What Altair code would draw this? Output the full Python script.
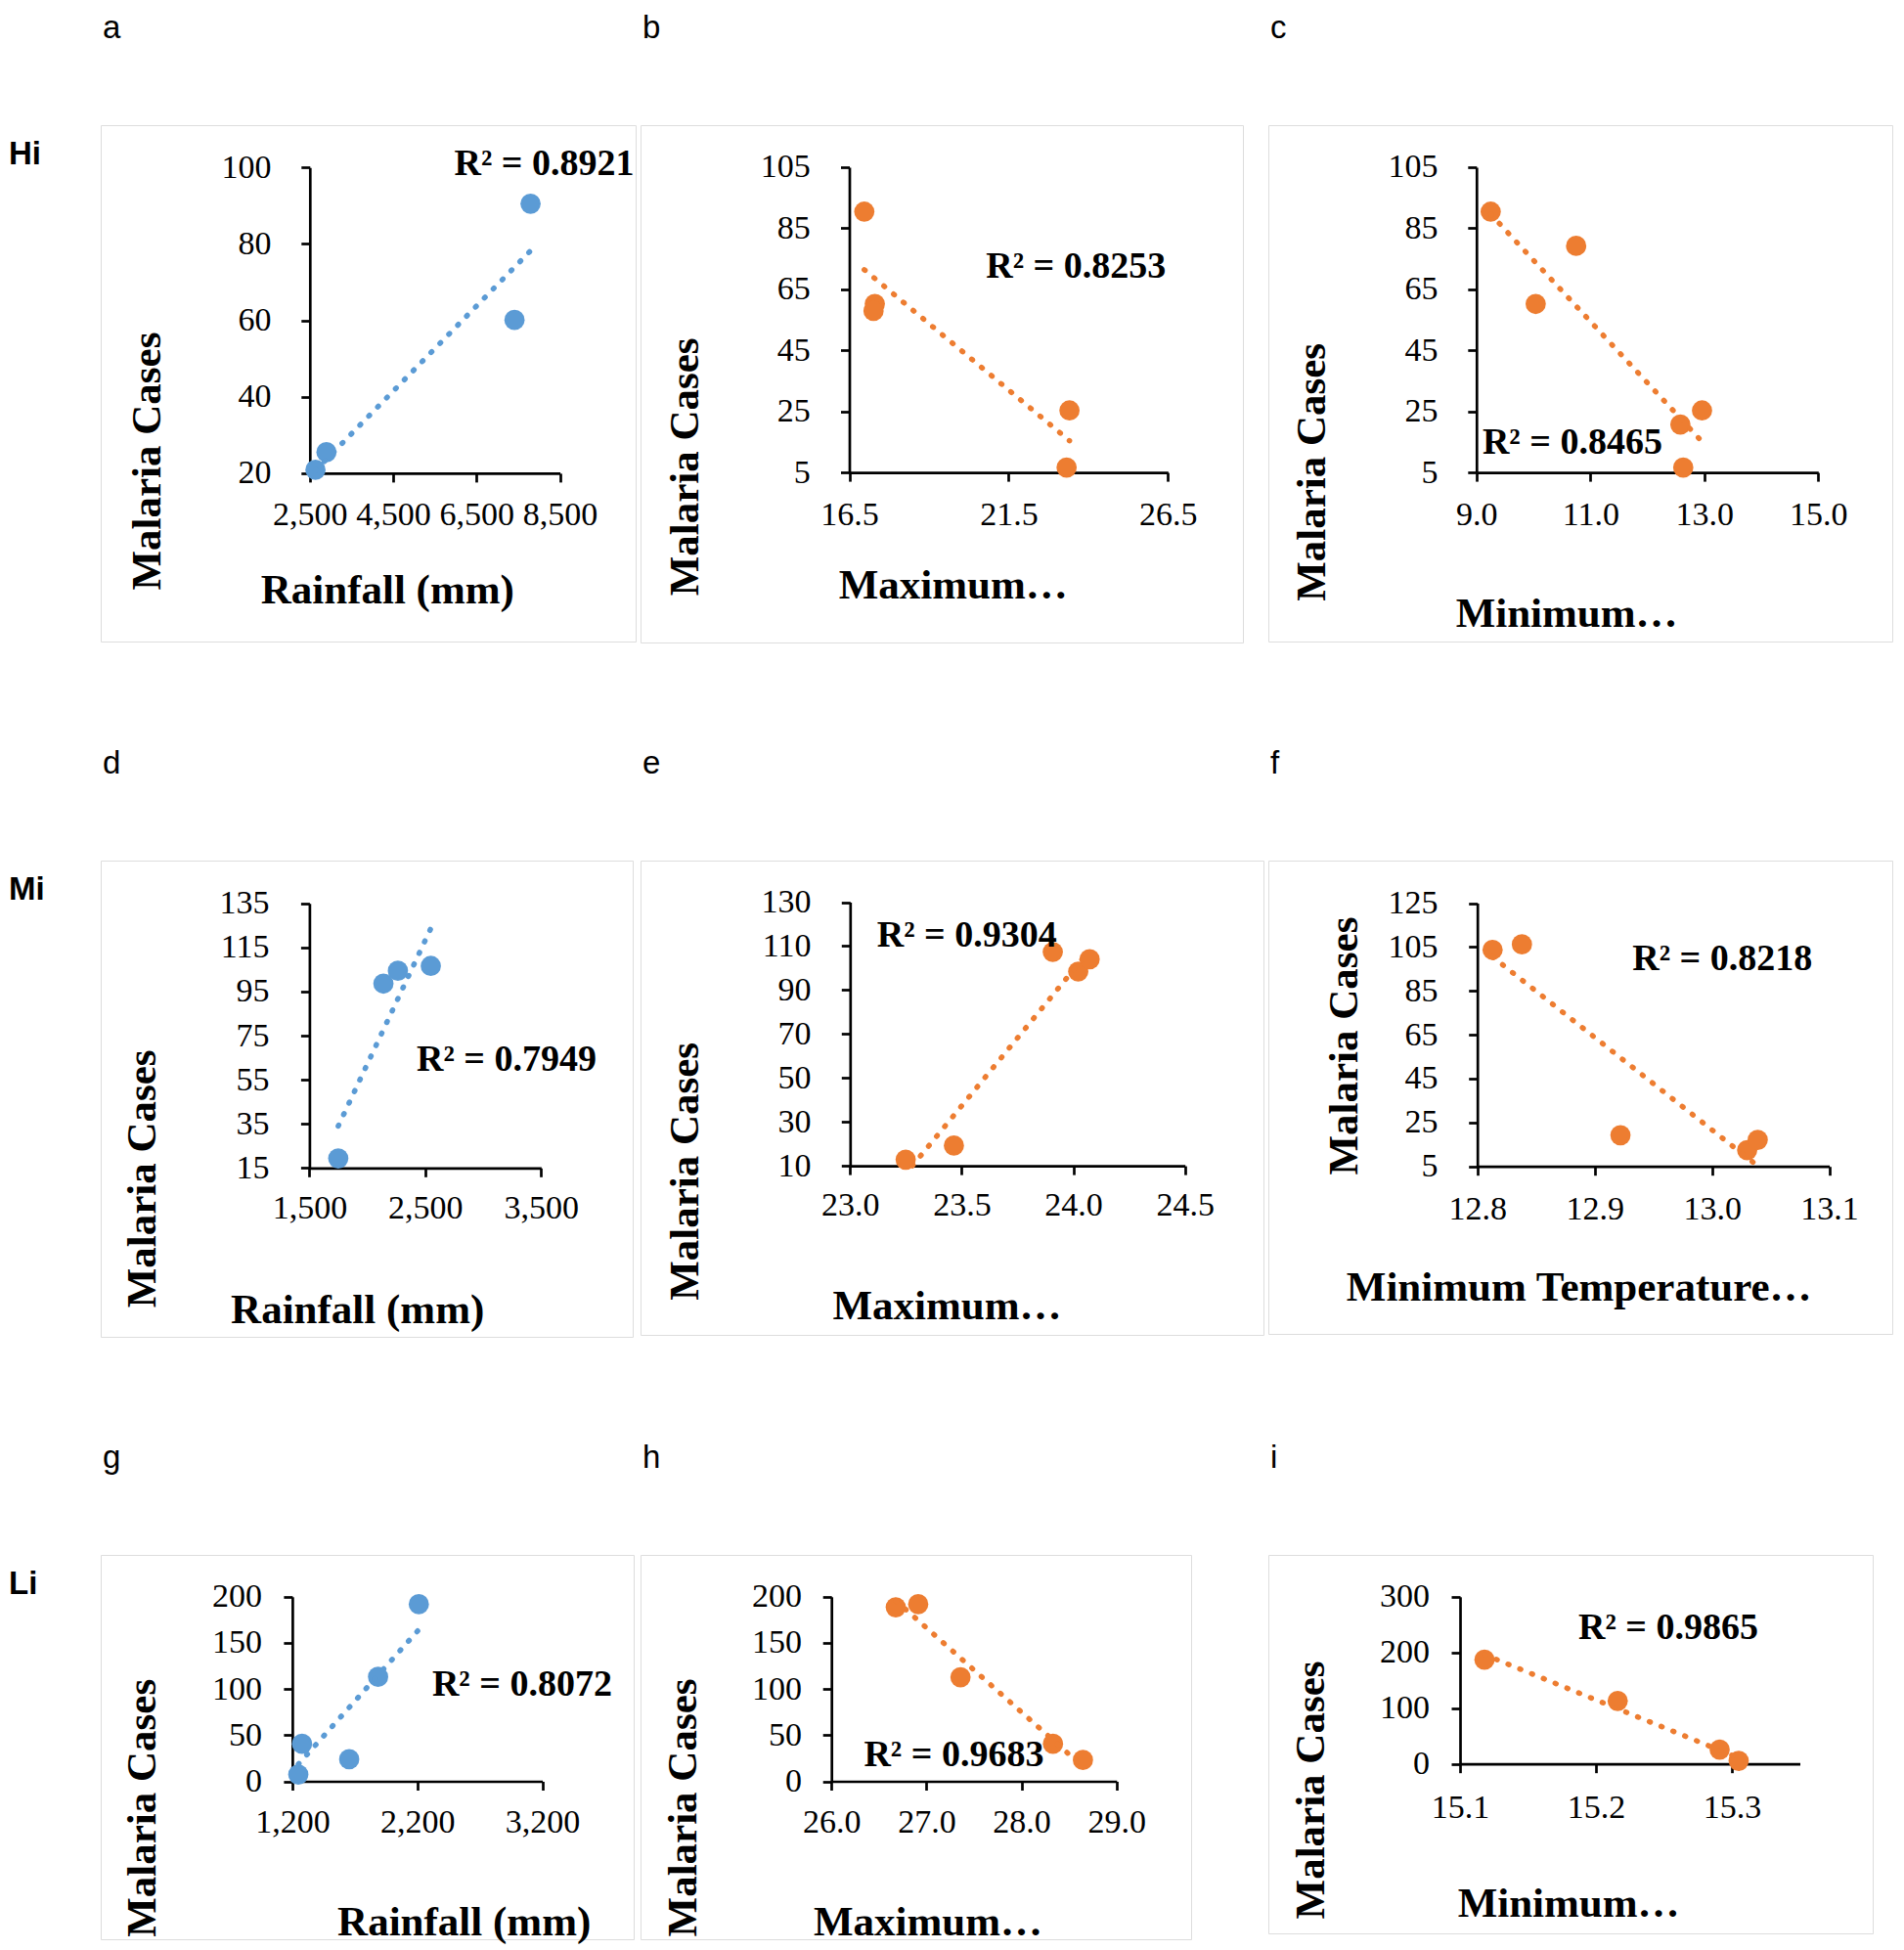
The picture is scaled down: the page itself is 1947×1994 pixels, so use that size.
import altair as alt
import pandas as pd

# ---------------- data ----------------
# Hi zone
hi_rain = [2636, 2899, 7410, 7795]
hi_rain_cases = [20.9, 25.5, 60.1, 90.5]
hi_tmax = [16.97, 17.30, 17.26, 23.41, 23.32]
hi_tmax_cases = [90.4, 60.2, 57.9, 25.3, 6.6]
hi_tmin = [9.25, 10.75, 10.04, 12.58, 12.96, 12.63]
hi_tmin_cases = [90.4, 79.2, 60.2, 20.7, 25.3, 6.6]
# Mi zone
mi_rain = [1749, 2139, 2264, 2548]
mi_rain_cases = [19.3, 98.6, 104.4, 106.6]
mi_tmax = [23.249, 23.465, 23.908, 24.022, 24.073]
mi_tmax_cases = [12.8, 19.2, 107.3, 98.4, 104.0]
mi_tmin = [12.813, 12.838, 12.922, 13.030, 13.039]
mi_tmin_cases = [103.7, 106.2, 19.2, 12.4, 17.1]
# Li zone
li_rain = [1278, 1248, 1655, 1886, 2212]
li_rain_cases = [40.6, 7.3, 23.9, 113.2, 191.9]
li_tmax = [26.677, 26.913, 27.358, 28.331, 28.646]
li_tmax_cases = [188.6, 191.9, 112.8, 40.6, 23.1]
li_tmin = [15.118, 15.216, 15.291, 15.305]
li_tmin_cases = [187.0, 113.0, 25.6, 5.4]

# linear trendlines (end points)
trend_x = [[2636, 7795], [16.97, 23.41], [9.25, 12.96],
           [1749, 2548], [23.279, 24.073], [12.813, 13.039],
           [1248, 2212], [26.677, 28.646], [15.118, 15.305]]
trend_y = [[20.7, 78.2], [71.4, 15.4], [89.6, 15.1],
           [34.0, 123.6], [10.0, 108.1], [100.5, 5.2],
           [18.4, 164.4], [195.8, 15.9], [196.2, 10.7]]

r2_labels = ["R\u00b2 = 0.8921", "R\u00b2 = 0.8253", "R\u00b2 = 0.8465",
             "R\u00b2 = 0.7949", "R\u00b2 = 0.9304", "R\u00b2 = 0.8218",
             "R\u00b2 = 0.8072", "R\u00b2 = 0.9683", "R\u00b2 = 0.9865"]
x_titles = ["Rainfall (mm)", "Maximum\u2026", "Minimum\u2026",
            "Rainfall (mm)", "Maximum\u2026", "Minimum Temperature\u2026",
            "Rainfall (mm)", "Maximum\u2026", "Minimum\u2026"]
y_title = "Malaria Cases"
panel_letters = ["a", "b", "c", "d", "e", "f", "g", "h", "i"]
row_labels = ["Hi", "Mi", "Li"]

x_domains = [[2500, 8500], [16.5, 26.5], [9.0, 15.0],
             [1500, 3500], [23.0, 24.5], [12.8, 13.1],
             [1200, 3200], [26.0, 29.0], [15.1, 15.35]]
x_ticks = [[2500, 4500, 6500, 8500], [16.5, 21.5, 26.5], [9, 11, 13, 15],
           [1500, 2500, 3500], [23.0, 23.5, 24.0, 24.5], [12.8, 12.9, 13.0, 13.1],
           [1200, 2200, 3200], [26, 27, 28, 29], [15.1, 15.2, 15.3]]
x_formats = [",.0f", ".1f", ".1f", ",.0f", ".1f", ".1f", ",.0f", ".1f", ".1f"]
y_domains = [[20, 100], [5, 105], [5, 105],
             [15, 135], [10, 130], [5, 125],
             [0, 200], [0, 200], [0, 300]]
y_ticks = [[20, 40, 60, 80, 100], [5, 25, 45, 65, 85, 105], [5, 25, 45, 65, 85, 105],
           [15, 35, 55, 75, 95, 115, 135], [10, 30, 50, 70, 90, 110, 130],
           [5, 25, 45, 65, 85, 105, 125],
           [0, 50, 100, 150, 200], [0, 50, 100, 150, 200], [0, 100, 200, 300]]

xs_all = [hi_rain, hi_tmax, hi_tmin, mi_rain, mi_tmax, mi_tmin, li_rain, li_tmax, li_tmin]
ys_all = [hi_rain_cases, hi_tmax_cases, hi_tmin_cases,
          mi_rain_cases, mi_tmax_cases, mi_tmin_cases,
          li_rain_cases, li_tmax_cases, li_tmin_cases]

BLUE = "#5B9BD5"
ORANGE = "#ED7D31"
colors = [BLUE, ORANGE, ORANGE, BLUE, ORANGE, ORANGE, BLUE, ORANGE, ORANGE]

# ---------------- layout (pixels, relative to each panel frame) ----------------
SERIF = "Liberation Serif"
SANS = "Liberation Sans"
layout = [
    dict(W=547, H=528, xr=(213.8, 469.6), yr=(355.9, 43.2), ygap=39.7, xgap=42.8,
         yt=(47.7, 343.1), xt=(292.8, 475.6), r2=(453.5, 39.7)),
    dict(W=616, H=529, xr=(213.5, 539.3), yr=(355.1, 42.9), ygap=40.2, xgap=42.9,
         yt=(45.6, 348.9), xt=(319.2, 470.7), r2=(445.2, 145.4)),
    dict(W=638, H=528, xr=(212.8, 562.3), yr=(355.1, 42.9), ygap=39.8, xgap=42.9,
         yt=(44.0, 354.4), xt=(304.6, 499.7), r2=(310.9, 325.3)),
    dict(W=544, H=487, xr=(213.4, 450.3), yr=(314.3, 43.7), ygap=41.3, xgap=41.6,
         yt=(42.9, 324.9), xt=(262.2, 459.2), r2=(415.0, 204.1)),
    dict(W=637, H=485, xr=(214.3, 556.7), yr=(312.1, 42.5), ygap=40.2, xgap=40.0,
         yt=(45.6, 317.4), xt=(313.0, 455.0), r2=(333.7, 77.0)),
    dict(W=638, H=484, xr=(213.7, 573.6), yr=(312.7, 43.5), ygap=40.7, xgap=43.8,
         yt=(77.5, 189.1), xt=(317.2, 436.1), r2=(464.2, 101.2)),
    dict(W=545, H=393, xr=(195.9, 451.6), yr=(231.5, 42.8), ygap=31.4, xgap=42.1,
         yt=(42.9, 258.3), xt=(371.2, 375.0), r2=(430.9, 133.2)),
    dict(W=563, H=393, xr=(195.2, 486.8), yr=(231.5, 42.8), ygap=30.7, xgap=42.0,
         yt=(43.0, 258.0), xt=(293.5, 375.0), r2=(320.4, 204.7)),
    dict(W=618, H=387, xr=(196.0, 543.5), yr=(213.7, 42.8), ygap=31.4, xgap=44.8,
         yt=(43.3, 240.0), xt=(306.6, 356.0), r2=(409.0, 74.8)),
]
TICK = 9
LINEW = 2.7
LETTER_Y = -89


def make_panel(i):
    L = layout[i]
    W, H = L["W"], L["H"]
    xscale = alt.Scale(domain=x_domains[i], range=[L["xr"][0], L["xr"][1]], nice=False, zero=False)
    yscale = alt.Scale(domain=y_domains[i], range=[L["yr"][0], L["yr"][1]], nice=False, zero=False)
    common = dict(grid=False, domainColor="black", domainWidth=LINEW, tickColor="black",
                  tickWidth=LINEW, tickSize=TICK, labelFont=SERIF, labelFontSize=34,
                  labelColor="black", labelOverlap=False, labelFlush=False,
                  titleFont=SERIF, titleFontSize=43, titleFontWeight="bold",
                  titleColor="black", titleAlign="center", titleBaseline="middle")
    xaxis = alt.Axis(orient="bottom", values=x_ticks[i], format=x_formats[i],
                     title=x_titles[i], offset=L["yr"][0] - H,
                     labelPadding=L["xgap"] - TICK, labelBaseline="middle",
                     titleX=L["xt"][0], titleY=L["xt"][1] - L["yr"][0], titleAngle=0,
                     **common)
    yaxis = alt.Axis(orient="left", values=y_ticks[i], format="d", title=y_title,
                     offset=-L["xr"][0], labelPadding=L["ygap"] - TICK,
                     titleX=L["yt"][0] - L["xr"][0], titleY=L["yt"][1], titleAngle=270,
                     **common)
    X = alt.X("x:Q", scale=xscale, axis=xaxis)
    Y = alt.Y("y:Q", scale=yscale, axis=yaxis)

    pts = pd.DataFrame({"x": xs_all[i], "y": ys_all[i]})
    trd = pd.DataFrame({"x": trend_x[i], "y": trend_y[i]})

    points = alt.Chart(pts).mark_circle(size=430, opacity=1, color=colors[i]).encode(x=X, y=Y)
    trend = alt.Chart(trd).mark_line(color=colors[i], strokeWidth=5.5, strokeCap="round",
                                     strokeDash=[1, 12], clip=True).encode(x=X, y=Y)
    r2 = alt.Chart(pd.DataFrame({"t": [r2_labels[i]]})).mark_text(
        font=SERIF, fontSize=38, fontWeight="bold", color="black",
        align="center", baseline="middle").encode(
        x=alt.value(L["r2"][0]), y=alt.value(L["r2"][1]), text="t:N")
    letter = alt.Chart(pd.DataFrame({"t": [panel_letters[i]]})).mark_text(
        font=SANS, fontSize=33, color="black", align="left", baseline="alphabetic").encode(
        x=alt.value(2), y=alt.value(LETTER_Y), text="t:N")
    layers = [points, trend, r2, letter]
    if i % 3 == 0:
        rl = alt.Chart(pd.DataFrame({"t": [row_labels[i // 3]]})).mark_text(
            font=SANS, fontSize=33, fontWeight="bold", color="black",
            align="left", baseline="alphabetic").encode(
            x=alt.value(-94), y=alt.value(40), text="t:N")
        layers.append(rl)
    return alt.layer(*layers).properties(width=W, height=H)


panels = [make_panel(i) for i in range(9)]

chart = alt.concat(*panels, columns=3, spacing={"row": 223, "column": 5},
                   bounds="flush", align="each",
                   padding={"top": 4, "left": 0, "right": 0, "bottom": 0}).configure_view(
    stroke="#d9d9d9", strokeWidth=2.5, fill="white").configure(background="white")

chart.save("out.html", embed_options={"renderer": "svg", "actions": False})
